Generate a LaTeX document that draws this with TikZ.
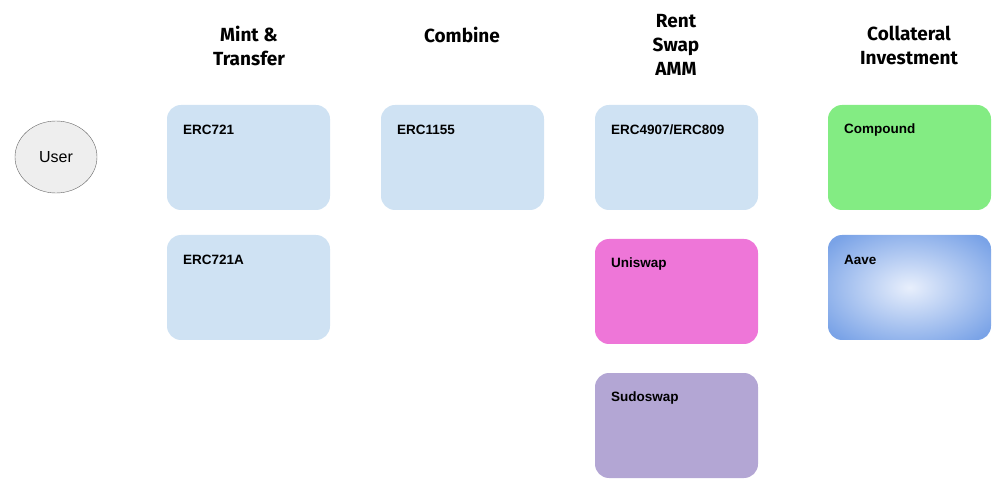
\documentclass[tikz,border=0pt]{standalone}
\usepackage{fontspec}
\usetikzlibrary{shapes.geometric}
\setmainfont{Liberation Sans}
\newfontfamily\headfont{Fira Sans}
\definecolor{bluebox}{HTML}{CFE2F3}
\definecolor{greenbox}{HTML}{83EC83}
\definecolor{pinkbox}{HTML}{EE76D8}
\definecolor{lilacbox}{HTML}{B3A6D4}
\definecolor{aaveout}{HTML}{7AA3E7}
\definecolor{aavein}{HTML}{E8EFFC}
\definecolor{userfill}{HTML}{EEEEEE}
\definecolor{userline}{HTML}{666666}
\pgfdeclareradialshading{aaveshade}{\pgfpoint{0bp}{0bp}}{color(0bp)=(aavein); color(32bp)=(aaveout); color(50bp)=(aaveout)}
\tikzset{
  box/.style={rounded corners=14pt, minimum width=163pt, minimum height=105pt, inner sep=0pt},
  lbl/.style={font=\bfseries\fontsize{13.5}{15}\selectfont, anchor=west, inner sep=0pt},
  head/.style={font=\headfont\bfseries\fontsize{19}{24}\selectfont, align=center, inner sep=0pt},
}
\begin{document}
\begin{tikzpicture}[x=1pt,y=-1pt]
\useasboundingbox (0,0) rectangle (1007,494);
% headings
\node[head] (hmint) at (249,46) {Mint \&\\Transfer};
\node[head] (hcombine) at (462,35) {Combine};
\node[head] (hrent) at (676,45) {Rent\\Swap\\AMM};
\node[head] (hcoll) at (909,45) {Collateral\\Investment};
% user
\node[ellipse, draw=userline, fill=userfill, minimum width=82pt, minimum height=72pt,
  font=\fontsize{16}{18}\selectfont] (user) at (56,157) {User};
% boxes
\node[box, fill=bluebox] (erc721) at (248.5,157.5) {};
\node[box, fill=bluebox] (erc721a) at (248.5,287.5) {};
\node[box, fill=bluebox] (erc1155) at (462.5,157.5) {};
\node[box, fill=bluebox] (erc4907) at (676.5,157.5) {};
\node[box, fill=pinkbox] (uniswap) at (676.5,291.5) {};
\node[box, fill=lilacbox] (sudoswap) at (676.5,425.5) {};
\node[box, fill=greenbox] (compound) at (909.5,157.5) {};
\node[box, shading=aaveshade] (aave) at (909.5,287.5) {};
% labels
\node[lbl] at ([shift={(16,25)}]erc721.north west) {ERC721};
\node[lbl] at ([shift={(16,25)}]erc721a.north west) {ERC721A};
\node[lbl] at ([shift={(16,25)}]erc1155.north west) {ERC1155};
\node[lbl] at ([shift={(16,25)}]erc4907.north west) {ERC4907/ERC809};
\node[lbl] at ([shift={(16,25)}]uniswap.north west) {Uniswap};
\node[lbl] at ([shift={(16,25)}]sudoswap.north west) {Sudoswap};
\node[lbl] at ([shift={(16,25)}]compound.north west) {Compound};
\node[lbl] at ([shift={(16,25)}]aave.north west) {Aave};
\end{tikzpicture}
\end{document}
